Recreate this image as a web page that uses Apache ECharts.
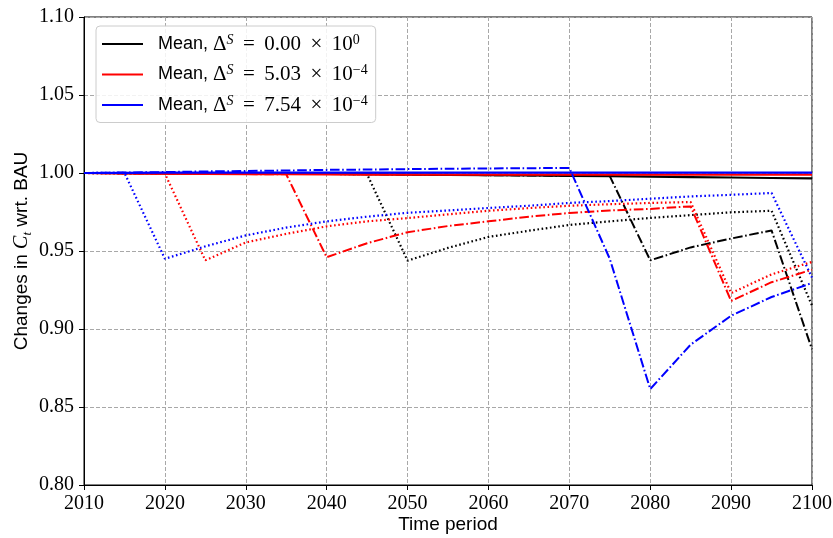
<!DOCTYPE html>
<html>
<head>
<meta charset="utf-8">
<script src="https://cdn.jsdelivr.net/npm/echarts@6/dist/echarts.min.js"></script>
<style>html,body{margin:0;padding:0;background:#fff}#c{width:833px;height:538px}</style>
</head>
<body>
<div id="c"></div>
<script>
const years = [2010,2015,2020,2025,2030,2035,2040,2045,2050,2055,2060,2065,2070,2075,2080,2085,2090,2095,2100];

const blackMean    = [1.000,0.9999,0.9998,0.9997,0.9996,0.9995,0.9994,0.9992,0.9990,0.9988,0.9986,0.9984,0.9982,0.9980,0.9977,0.9974,0.9971,0.9968,0.9965];
const blackDotted  = [1.000,0.9999,0.9998,0.9997,0.9996,0.9995,0.9994,0.9992,0.9438,0.952,0.959,0.963,0.9667,0.969,0.9712,0.973,0.9748,0.9758,0.915];
const blackDashDot = [1.000,0.9999,0.9998,0.9997,0.9996,0.9995,0.9994,0.9992,0.9990,0.9988,0.9986,0.9984,0.9982,0.9980,0.944,0.9523,0.958,0.9632,0.887];

const redMean      = [1.000,0.9998,0.9996,0.9994,0.9993,0.9992,0.9991,0.9990,0.9990,0.9990,0.9990,0.9989,0.9989,0.9989,0.9989,0.9989,0.9989,0.9989,0.9989];
const redDotted    = [1.000,0.9998,0.9996,0.944,0.9555,0.961,0.9658,0.969,0.9711,0.9735,0.9758,0.9775,0.979,0.980,0.9808,0.9814,0.923,0.935,0.943];
const redDashDot   = [1.000,0.9998,0.9996,0.9994,0.9993,0.9992,0.946,0.955,0.962,0.966,0.969,0.972,0.9744,0.976,0.977,0.9786,0.918,0.930,0.938];

const blueMean     = [1.000,1.0001,1.0002,1.0002,1.0003,1.0003,1.0003,1.0003,1.0003,1.0003,1.0003,1.0003,1.0003,1.0003,1.0003,1.0003,1.0003,1.0003,1.0003];
const blueDotted   = [1.000,1.0001,0.945,0.953,0.960,0.965,0.969,0.972,0.9745,0.976,0.9776,0.979,0.9808,0.982,0.9835,0.985,0.986,0.9872,0.933];
const blueDashDot  = [1.000,1.0003,1.0006,1.0010,1.0013,1.0016,1.0020,1.0022,1.0025,1.0027,1.0029,1.0031,1.0032,0.945,0.8615,0.890,0.9085,0.9205,0.9295];

const yTicks = { min: 0.80, max: 1.10, step: 0.05 };
const xTicks = { min: 2010, max: 2100, step: 10 };

const legendNames = ['m0', 'm1', 'm2'];
const legendTex = {
  m0: ['0.00', '0'],
  m1: ['5.03', '\u22124'],
  m2: ['7.54', '\u22124']
};

const pair = arr => years.map((y, i) => [y, arr[i]]);
const DOT = [1.6, 2.6];
const DASHDOT = [9.6, 2.6, 1.6, 2.6];

function mk(name, data, color, type, width) {
  return {
    name: name, type: 'line', data: pair(data), showSymbol: false, symbol: 'none',
    lineStyle: { color: color, width: width, type: type, cap: 'butt' },
    itemStyle: { color: color }, silent: true, z: 2
  };
}

const series = [
  mk('m0', blackMean, '#000000', 'solid', 2.2),
  mk('b_dot', blackDotted, '#000000', DOT, 2.2),
  mk('b_dd', blackDashDot, '#000000', DASHDOT, 2),
  mk('m1', redMean, '#ff0000', 'solid', 2.2),
  mk('r_dot', redDotted, '#ff0000', DOT, 2.2),
  mk('r_dd', redDashDot, '#ff0000', DASHDOT, 2),
  mk('m2', blueMean, '#0000ff', 'solid', 2.2),
  mk('bl_dot', blueDotted, '#0000ff', DOT, 2.2),
  mk('bl_dd', blueDashDot, '#0000ff', DASHDOT, 2)
];

const serif = 'Liberation Serif';
const sans = 'Liberation Sans';

const chart = echarts.init(document.getElementById('c'), null, { renderer: 'canvas' });
chart.setOption({
  animation: false,
  backgroundColor: '#ffffff',
  grid: { left: 84, right: 21, top: 17, bottom: 53, show: true, borderColor: '#000', borderWidth: 1, backgroundColor: 'transparent', outerBoundsMode: 'none', containLabel: false },
  xAxis: {
    type: 'value', min: xTicks.min, max: xTicks.max, interval: xTicks.step,
    name: 'Time period', nameLocation: 'middle', nameGap: 30, nameMoveOverlap: false,
    nameTextStyle: { fontFamily: sans, fontSize: 19, color: '#000' },
    axisLine: { show: true, lineStyle: { color: '#000', width: 1 } },
    axisTick: { show: true, length: 5, lineStyle: { color: '#000' } },
    axisLabel: { fontFamily: serif, fontSize: 20, color: '#000', margin: 9, formatter: v => String(v) },
    splitLine: { show: true, lineStyle: { color: '#a8a8a8', type: [4, 2], width: 1 } }
  },
  yAxis: {
    type: 'value', min: yTicks.min, max: yTicks.max, interval: yTicks.step,
    name: '{a|Changes in }{c|C}{t|t}{a| wrt. BAU}', nameLocation: 'middle', nameGap: 50, nameMoveOverlap: false,
    nameTextStyle: {
      rich: {
        a: { fontFamily: sans, fontSize: 19, color: '#000', lineHeight: 24 },
        c: { fontFamily: serif, fontStyle: 'italic', fontSize: 20, color: '#000', lineHeight: 24 },
        t: { fontFamily: serif, fontStyle: 'italic', fontSize: 13, color: '#000', lineHeight: 12, verticalAlign: 'bottom' }
      }
    },
    axisLine: { show: true, lineStyle: { color: '#000', width: 1 } },
    axisTick: { show: true, length: 5, lineStyle: { color: '#000' } },
    axisLabel: { fontFamily: serif, fontSize: 20, color: '#000', margin: 10, formatter: v => v.toFixed(2) },
    splitLine: { show: true, lineStyle: { color: '#a8a8a8', type: [4, 2], width: 1 } }
  },
  legend: {
    data: legendNames.map(n => ({ name: n, icon: 'rect' })), left: 96, top: 26, orient: 'vertical',
    itemWidth: 41, itemHeight: 2, itemGap: 9,
    padding: [7, 8, 7, 6],
    backgroundColor: 'rgba(255,255,255,0.85)', borderColor: '#cccccc', borderWidth: 1, borderRadius: 4,
    selectedMode: false,
    formatter: name => '{m|Mean, }{g|\u0394}{s|S}{g| \u2009=\u2009 ' + legendTex[name][0] + ' \u2009\u00d7\u2009 10}{p|' + legendTex[name][1] + '}',
    textStyle: {
      rich: {
        m: { fontFamily: sans, fontSize: 18, color: '#000', lineHeight: 22, padding: [0, 0, 0, 10] },
        g: { fontFamily: serif, fontSize: 21, color: '#000', lineHeight: 22 },
        s: { fontFamily: serif, fontStyle: 'italic', fontSize: 14, color: '#000', lineHeight: 12, verticalAlign: 'top' },
        p: { fontFamily: serif, fontSize: 14, color: '#000', lineHeight: 12, verticalAlign: 'top' }
      }
    }
  },
  series: series
});
</script>
</body>
</html>
